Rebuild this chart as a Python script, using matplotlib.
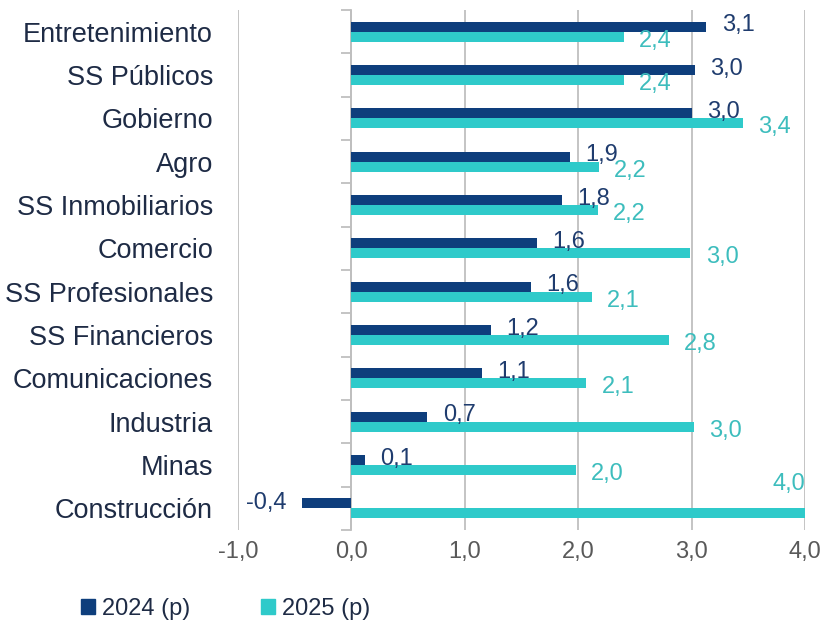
import matplotlib.pyplot as plt
import numpy as np
from matplotlib.ticker import FuncFormatter
from matplotlib.patches import Patch

plt.rcParams['font.family'] = ['Liberation Sans', 'DejaVu Sans']

categories = ["Entretenimiento", "SS Públicos", "Gobierno", "Agro", "SS Inmobiliarios",
              "Comercio", "SS Profesionales", "SS Financieros", "Comunicaciones",
              "Industria", "Minas", "Construcción"]
values_2024 = [3.13, 3.03, 3.0, 1.93, 1.86, 1.64, 1.58, 1.23, 1.15, 0.67, 0.12, -0.44]
values_2025 = [2.40, 2.40, 3.45, 2.18, 2.17, 2.99, 2.12, 2.80, 2.07, 3.02, 1.98, 4.0]
labels_2024 = ["3,1", "3,0", "3,0", "1,9", "1,8", "1,6", "1,6", "1,2", "1,1", "0,7", "0,1", "-0,4"]
labels_2025 = ["2,4", "2,4", "3,4", "2,2", "2,2", "3,0", "2,1", "2,8", "2,1", "3,0", "2,0", "4,0"]
series_names = ["2024 (p)", "2025 (p)"]

dark = '#0E3E7C'
cyan = '#2FCACA'
dark_txt = '#1F3C6E'
cyan_txt = '#3DBDBD'
grid_c = '#BFBFBF'
text_c = '#1E2B45'
tick_c = '#595959'

fig = plt.figure(figsize=(8.25, 6.21), dpi=100)
ax = fig.add_axes([0.2885, 0.1465, 0.6873, 0.8374])

y = np.arange(len(categories))
h = 0.23
ax.barh(y - h / 2, values_2024, height=h, color=dark, zorder=3)
ax.barh(y + h / 2, values_2025, height=h, color=cyan, zorder=3)

xmin, xmax = -1.0, 4.0
ax.set_xlim(xmin, xmax)
ax.set_ylim(len(categories) - 0.5, -0.5)

# data labels
for i in range(len(categories)):
    v = values_2024[i]
    if v < 0:
        ax.annotate(labels_2024[i], (v, y[i] - h / 2), xytext=(-11, 0), textcoords='offset points',
                    ha='right', va='center', fontsize=17, color=dark_txt)
    else:
        ax.annotate(labels_2024[i], (v, y[i] - h / 2), xytext=(11, 1), textcoords='offset points',
                    ha='left', va='center', fontsize=17, color=dark_txt)
    v = values_2025[i]
    if v >= xmax:
        ax.annotate(labels_2025[i], (v, y[i] - h / 2), xytext=(0, 14), textcoords='offset points',
                    ha='right', va='center', fontsize=17, color=cyan_txt)
    else:
        ax.annotate(labels_2025[i], (v, y[i] + h / 2), xytext=(11, -3), textcoords='offset points',
                    ha='left', va='center', fontsize=17, color=cyan_txt)

ax.set_xticks(np.arange(-1, 5, 1))
ax.xaxis.set_major_formatter(FuncFormatter(lambda x, p: f"{x:.1f}".replace('.', ',')))
ax.set_yticks(y)
ax.set_yticklabels(categories)
ax.tick_params(axis='y', length=0, pad=18, labelsize=19.5, labelcolor=text_c)
ax.tick_params(axis='x', length=0, pad=8, labelsize=17, labelcolor=tick_c)
ax.xaxis.grid(True, color=grid_c, linewidth=1.3)
ax.set_axisbelow(True)
for s in ax.spines.values():
    s.set_visible(False)

# category axis at x = 0 with ticks between groups
sec = ax.secondary_yaxis((0 - xmin) / (xmax - xmin))
sec.set_yticks(np.arange(len(categories) + 1) - 0.5)
sec.set_yticklabels([])
sec.tick_params(length=7, width=1.3, color=grid_c)
sec.spines['left'].set_color(grid_c)
sec.spines['left'].set_linewidth(1.3)

handles = [Patch(color=dark), Patch(color=cyan)]
fig.legend(handles, series_names, loc='lower left', bbox_to_anchor=(0.072, -0.033), ncol=2,
           frameon=False, fontsize=17, labelcolor=text_c, handlelength=0.6, handleheight=0.6,
           handletextpad=0.3, columnspacing=3.0)

fig.savefig('out.png', dpi=100)
